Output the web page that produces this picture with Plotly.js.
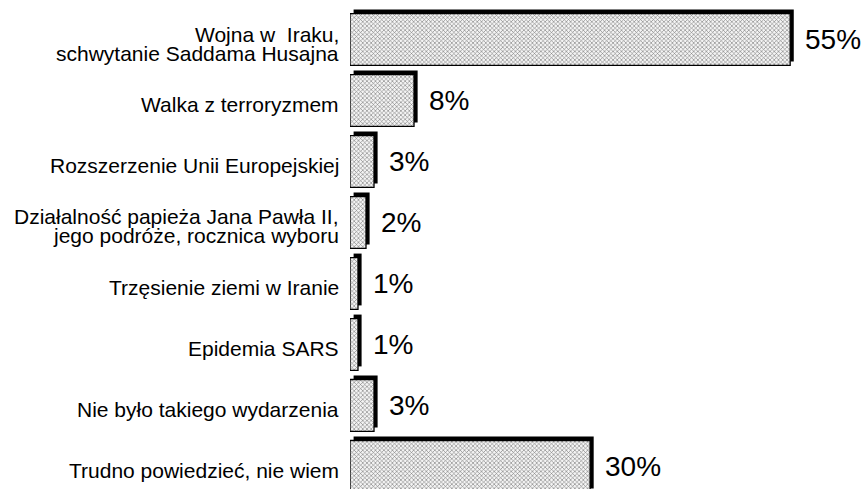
<!DOCTYPE html>
<html><head><meta charset="utf-8">
<script src="https://cdn.plot.ly/plotly-3.0.1.min.js"></script>
<style>html,body{margin:0;padding:0;background:#fff}</style>
</head><body>
<div id="chart" style="width:867px;height:489px"></div>
<script>
const categories = [
  "Wojna w\u00a0 Iraku,<br>schwytanie Saddama Husajna",
  "Walka z terroryzmem",
  "Rozszerzenie Unii Europejskiej",
  "Działalność papieża Jana Pawła II,<br>jego podróże, rocznica wyboru",
  "Trzęsienie ziemi w Iranie",
  "Epidemia SARS",
  "Nie było takiego wydarzenia",
  "Trudno powiedzieć, nie wiem"
];
const values = [55, 8, 3, 2, 1, 1, 3, 30];
const valueLabels = values.map(v => v + "%");

const idx = categories.map((c, i) => i);
const FONT = "Liberation Sans, Arial, sans-serif";

const shadow = {
  type: "bar", orientation: "h",
  y: idx, x: values, base: 0.45,
  width: 0.85, offset: -0.49,
  marker: {color: "#000", line: {width: 0}},
  hoverinfo: "skip"
};
const bars = {
  type: "bar", orientation: "h",
  y: idx, x: values,
  width: 0.85, offset: -0.425,
  marker: {
    color: "#ffffff",
    line: {color: "#000", width: 1.3},
    pattern: {shape: "x", fgcolor: "#777777", bgcolor: "#f4f4f4", size: 3, solidity: 0.35}
  },
  hoverinfo: "skip"
};

const annotations = [];
values.forEach((v, i) => {
  annotations.push({
    x: v, y: i, xref: "x", yref: "y",
    text: valueLabels[i], showarrow: false,
    xanchor: "left", xshift: 13,
    font: {family: FONT, size: 28, color: "#000"}
  });
});
categories.forEach((c, i) => {
  const lines = c.split("<br>");
  const n = lines.length;
  lines.forEach((ln, j) => {
    annotations.push({
      x: 0, y: i, xref: "paper", yref: "y",
      text: ln, showarrow: false,
      xanchor: "right", xshift: -9,
      yshift: ((n - 1) / 2 - j) * 19 - 4,
      font: {family: FONT, size: 21, color: "#000"}
    });
  });
});

const layout = {
  width: 867, height: 489,
  margin: {l: 350, r: 0, t: 9, b: 0},
  barmode: "overlay",
  showlegend: false,
  plot_bgcolor: "#fff", paper_bgcolor: "#fff",
  xaxis: {range: [0, 64.6], showgrid: false,
          showticklabels: false, zeroline: false, showline: false, ticks: ""},
  yaxis: {type: "linear", range: [7.37, -0.5], showticklabels: false,
          showgrid: false, zeroline: false, showline: false, ticks: ""},
  annotations: annotations
};
Plotly.newPlot("chart", [shadow, bars], layout, {staticPlot: true});
</script>
</body></html>
